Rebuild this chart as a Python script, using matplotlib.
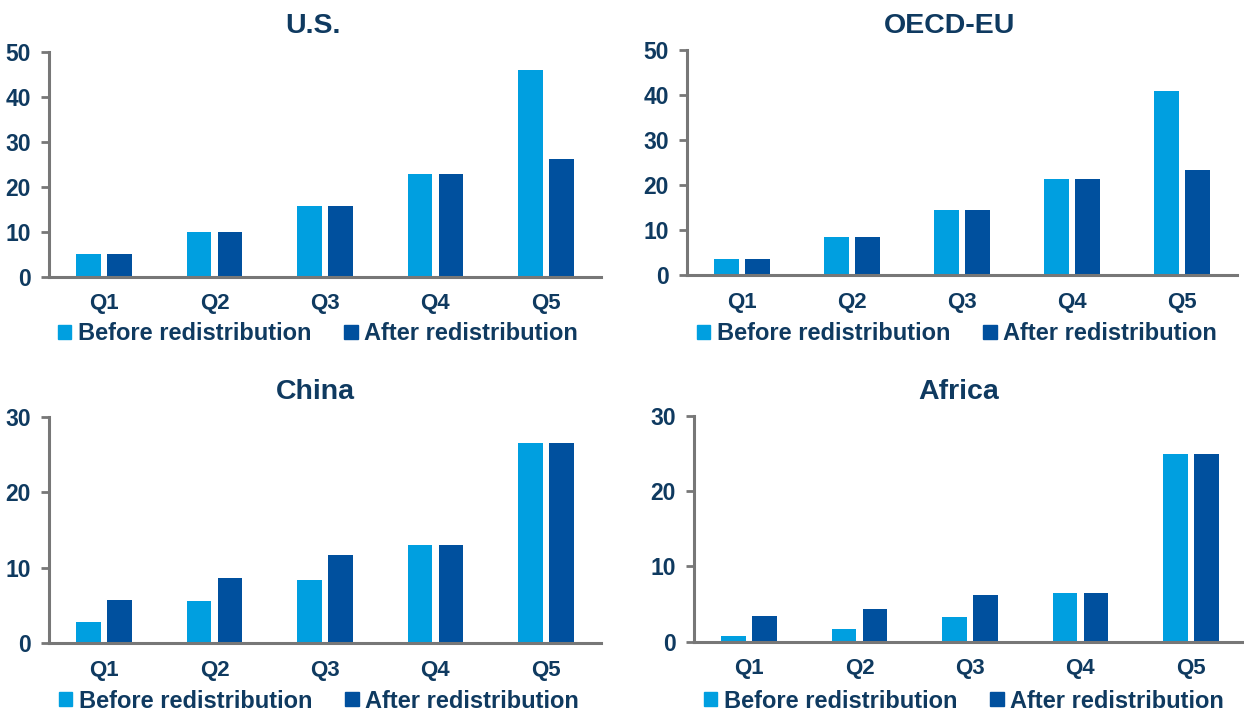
import matplotlib
matplotlib.use("Agg")
import matplotlib.pyplot as plt
from matplotlib.patches import Patch
import numpy as np

plt.rcParams['font.family'] = ['Liberation Sans', 'DejaVu Sans']
plt.rcParams['font.weight'] = 'bold'

# data (share of income, %)
quintiles = ["Q1", "Q2", "Q3", "Q4", "Q5"]
series_names = ["Before redistribution", "After redistribution"]

us_before = [5.0, 10.0, 15.8, 22.8, 45.9]
us_after = [5.0, 10.0, 15.8, 22.8, 26.1]

eu_before = [3.5, 8.5, 14.4, 21.4, 41.0]
eu_after = [3.5, 8.5, 14.4, 21.4, 23.3]

china_before = [2.8, 5.6, 8.45, 13.0, 26.5]
china_after = [5.7, 8.7, 11.7, 13.0, 26.5]

africa_before = [0.7, 1.7, 3.3, 6.4, 24.9]
africa_after = [3.45, 4.4, 6.2, 6.4, 24.9]

light = "#009FE0"
dark = "#00509E"
navy = "#0F3A60"
grey = "#777777"

W, H = 1244, 711
fig = plt.figure(figsize=(W / 100, H / 100), dpi=100)


def px_axes(left, right, top, bottom):
    return fig.add_axes([left / W, 1 - bottom / H, (right - left) / W, (bottom - top) / H])


# name, before, after, ymax, axes box (px), title centre (px), legend start (px)
panels = [
    ("U.S.", us_before, us_after, 50, (49, 601, 51.7, 276.7), (313, 26), (58, 334)),
    ("OECD-EU", eu_before, eu_after, 50, (687, 1237, 50, 275), (950, 26), (697, 334)),
    ("China", china_before, china_after, 30, (49, 601, 417, 643.3), (315, 392), (59, 701)),
    ("Africa", africa_before, africa_after, 30, (694, 1246, 415.7, 641.7), (959, 392), (704, 701)),
]

x = np.arange(len(quintiles))
bw = 0.222
off = 0.14

for name, before, after, ymax, box, tpos, lpos in panels:
    ax = px_axes(*box)
    ax.bar(x - off, before, width=bw, color=light)
    ax.bar(x + off, after, width=bw, color=dark)
    ax.set_xlim(-0.5, 4.5)
    ax.set_ylim(0, ymax)
    ax.set_yticks(np.arange(0, ymax + 1, 10))
    ax.set_xticks(x)
    ax.set_xticklabels(quintiles)
    for s in ["top", "right"]:
        ax.spines[s].set_visible(False)
    for s in ["left", "bottom"]:
        ax.spines[s].set_color(grey)
        ax.spines[s].set_linewidth(2.2)
    ax.tick_params(axis="y", direction="out", length=6, width=2, color=grey,
                   labelcolor=navy, labelsize=16.5, pad=7)
    ax.tick_params(axis="x", length=0, labelcolor=navy, labelsize=16, pad=12)
    for lab in ax.get_xticklabels() + ax.get_yticklabels():
        lab.set_fontweight("bold")

    fig.text(tpos[0] / W, 1 - tpos[1] / H, name, ha="center", va="center",
             fontsize=20.5, fontweight="bold", color=navy)

    handles = [Patch(color=light, label=series_names[0]),
               Patch(color=dark, label=series_names[1])]
    leg = ax.legend(handles=handles, loc="center left",
                    bbox_to_anchor=(lpos[0] / W, 1 - lpos[1] / H),
                    bbox_transform=fig.transFigure, ncol=2, frameon=False,
                    fontsize=17, handlelength=0.56, handleheight=0.56,
                    handletextpad=0.28, columnspacing=1.4,
                    borderpad=0, borderaxespad=0)
    for t in leg.get_texts():
        t.set_color(navy)
        t.set_fontweight("bold")

fig.savefig("out.png", dpi=100)
